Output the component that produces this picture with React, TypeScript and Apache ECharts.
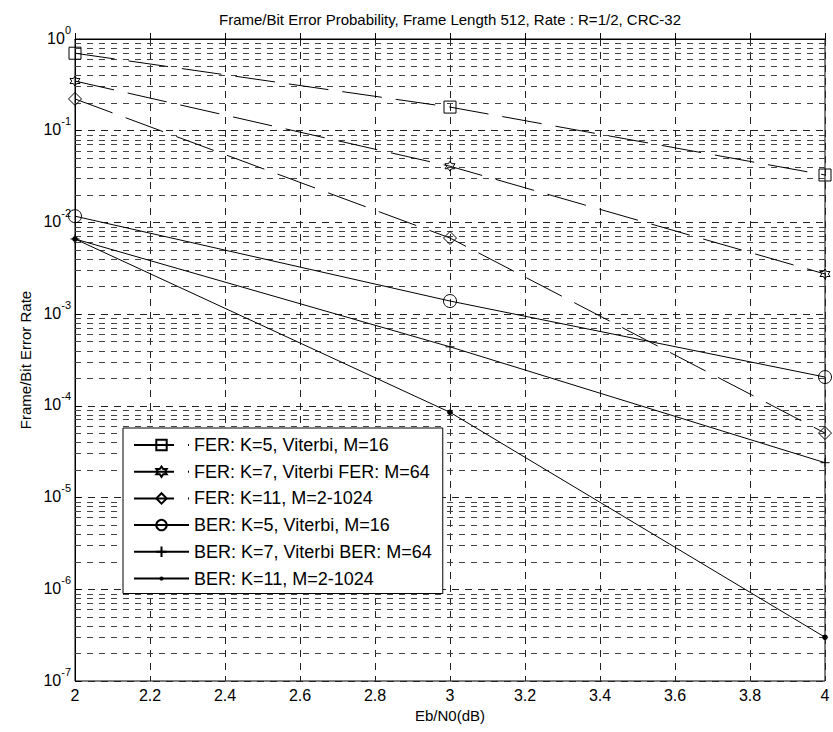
import React, { useEffect, useRef } from 'react';
import * as echarts from 'echarts';

const titleText = 'Frame/Bit Error Probability, Frame Length 512, Rate : R=1/2, CRC-32';
const xAxisName = 'Eb/N0(dB)';
const yAxisName = 'Frame/Bit Error Rate';

const ebN0 = [2, 3, 4];
const ferK5 = [0.7, 0.181, 0.0329];
const ferK7 = [0.348, 0.041, 0.00274];
const ferK11 = [0.222, 0.00676, 5.05e-5];
const berK5 = [0.0117, 0.00139, 2.06e-4];
const berK7 = [0.0066, 4.4e-4, 2.4e-5];
const berK11 = [0.0066, 8.5e-5, 3e-7];

const seriesNames = [
  'FER: K=5, Viterbi, M=16',
  'FER: K=7, Viterbi FER: M=64',
  'FER: K=11, M=2-1024',
  'BER: K=5, Viterbi, M=16',
  'BER: K=7, Viterbi BER: M=64',
  'BER: K=11, M=2-1024',
];

const decadeExponents = [-7, -6, -5, -4, -3, -2, -1];
const minorMantissas = [2, 3, 4, 5, 6, 7, 8, 9];

const FONT = "'Liberation Sans', Arial, Helvetica, sans-serif";

const hexagram =
  'path://M10 0 L12.89 5 L18.66 5 L15.77 10 L18.66 15 L12.89 15 L10 20 L7.11 15 L1.34 15 L4.23 10 L1.34 5 L7.11 5 Z';
const plusPath = 'path://M10 0 L10 20 M0 10 L20 10';
// small filled dot inside a 20x20 box (the two moves set the box)
const smallDot =
  'path://M0 0 M20 20 M10 6 C12.2 6 14 7.8 14 10 C14 12.2 12.2 14 10 14 C7.8 14 6 12.2 6 10 C6 7.8 7.8 6 10 6 Z';

export default function App() {
  const ref = useRef<HTMLDivElement>(null);

  useEffect(() => {
    document.body.style.margin = '0';
    const chart = echarts.init(ref.current!, null, { renderer: 'svg' });

    const toPts = (vals: number[]) => ebN0.map((x, i) => [x, Math.log10(vals[i])]);

    const minorLines: any[] = [];
    decadeExponents.forEach((n) => {
      minorMantissas.forEach((m) => {
        minorLines.push({ yAxis: n + Math.log10(m) });
      });
    });

    const dashed = [40, 14];
    const mk = (
      name: string,
      vals: number[],
      symbol: string,
      size: number,
      lineType: any,
      filled: boolean,
      extra: any = {}
    ) => ({
      name,
      type: 'line',
      data: toPts(vals),
      symbol,
      symbolSize: size,
      showSymbol: true,
      color: '#000',
      lineStyle: { color: '#000', width: 1, type: lineType },
      itemStyle: {
        color: filled ? '#000' : 'rgba(255,255,255,0)',
        borderColor: '#000',
        borderWidth: filled ? 0 : 1,
      },
      emphasis: { disabled: true },
      z: 5,
      ...extra,
    });

    const series: any[] = [
      mk(seriesNames[0], ferK5, 'rect', 12, dashed, false, {
        markLine: {
          silent: true,
          symbol: 'none',
          label: { show: false },
          animation: false,
          lineStyle: { color: '#444', width: 1, type: [6, 6] },
          data: minorLines,
          z: 1,
        },
      }),
      mk(seriesNames[1], ferK7, hexagram, 10, dashed, false),
      mk(seriesNames[2], ferK11, 'diamond', 13, dashed, false),
      mk(seriesNames[3], berK5, 'circle', 13, 'solid', false),
      mk(seriesNames[4], berK7, plusPath, 9, 'solid', false),
      mk(seriesNames[5], berK11, smallDot, 14, 'solid', true),
    ];

    chart.setOption({
      animation: false,
      backgroundColor: '#fff',
      textStyle: { fontFamily: FONT },
      grid: {
        left: 75,
        right: 8,
        top: 39,
        bottom: 51,
        show: true,
        borderColor: '#000',
        borderWidth: 1,
        backgroundColor: 'transparent',
      },
      graphic: [
        {
          type: 'text',
          x: 450,
          y: 19,
          style: {
            text: titleText,
            fontFamily: FONT,
            fontSize: 15,
            fill: '#000',
            textAlign: 'center',
            textVerticalAlign: 'middle',
          },
        },
      ],
      xAxis: {
        type: 'value',
        min: 2,
        max: 4,
        interval: 0.2,
        name: xAxisName,
        nameLocation: 'middle',
        nameGap: 24,
        nameTextStyle: { fontFamily: FONT, fontSize: 15, color: '#000' },
        axisLine: { show: true, lineStyle: { color: '#000', width: 1 } },
        axisTick: { show: true, inside: true, length: 6, lineStyle: { color: '#000' } },
        axisLabel: {
          fontFamily: FONT,
          fontSize: 16,
          color: '#000',
          margin: 6,
          formatter: (v: number) => String(Math.round(v * 10) / 10),
        },
        splitLine: { show: true, lineStyle: { color: '#222', width: 1, type: [7, 6] } },
      },
      yAxis: {
        type: 'value',
        min: -7,
        max: 0,
        interval: 1,
        name: yAxisName,
        nameLocation: 'middle',
        nameGap: 39,
        nameTextStyle: { fontFamily: FONT, fontSize: 15, color: '#000' },
        axisLine: { show: true, lineStyle: { color: '#000', width: 1 } },
        axisTick: { show: true, inside: true, length: 6, lineStyle: { color: '#000' } },
        axisLabel: {
          color: '#000',
          margin: 4,
          padding: [0, 0, 8, 0],
          formatter: (v: number) => `{b|10}{s|${Math.round(v)}}`,
          rich: {
            b: { fontFamily: FONT, fontSize: 16, lineHeight: 22, verticalAlign: 'bottom', color: '#000' },
            s: { fontFamily: FONT, fontSize: 11, lineHeight: 11, verticalAlign: 'top', color: '#000' },
          },
        },
        splitLine: { show: true, lineStyle: { color: '#222', width: 1, type: [7, 6] } },
      },
      legend: {
        orient: 'vertical',
        left: 123,
        top: 428,
        data: seriesNames,
        itemWidth: 55,
        itemHeight: 13,
        itemGap: 8.7,
        padding: [8, 11, 6, 10],
        backgroundColor: '#fff',
        borderColor: '#000',
        borderWidth: 1,
        borderRadius: 0,
        textStyle: { fontFamily: FONT, fontSize: 18, color: '#000' },
        selectedMode: false,
      },
      series,
    });

    return () => chart.dispose();
  }, []);

  return <div ref={ref} style={{ width: 833, height: 732 }} />;
}
